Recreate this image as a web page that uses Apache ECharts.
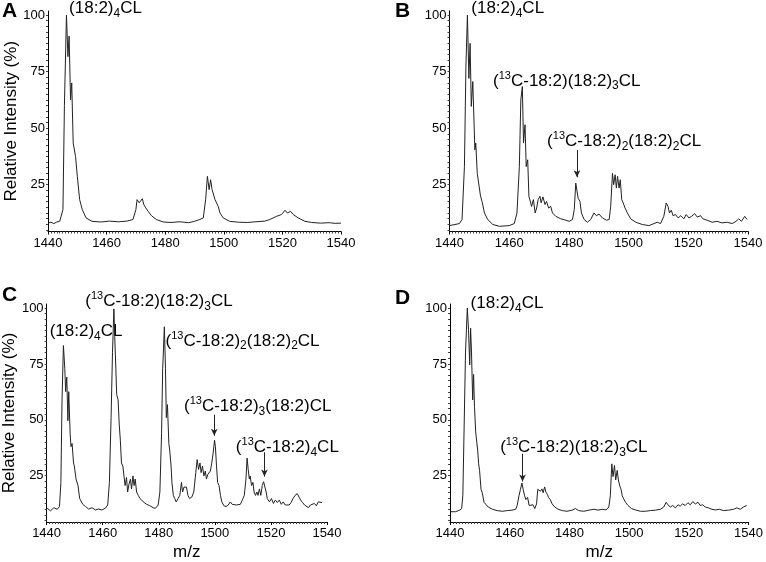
<!DOCTYPE html>
<html>
<head>
<meta charset="utf-8">
<script src="https://cdn.jsdelivr.net/npm/echarts@6/dist/echarts.min.js"></script>
<style>html,body{margin:0;padding:0;background:#fff}#c{width:766px;height:562px}</style>
</head>
<body>
<div id="c"></div>
<script>
// ---- data (m/z, relative intensity %) ----
const mzA = [1440,1441,1442,1443,1444,1444.6,1445.1,1445.6,1446.3,1446.8,1447.2,1447.7,1448.1,1448.6,1448.9,1449.4,1450,1450.8,1451.7,1453,1455,1458,1461,1464,1467,1469,1470,1470.4,1471.1,1471.7,1472.2,1472.7,1473.4,1474.2,1475.3,1477,1479.3,1482,1485,1488,1490,1491.8,1493,1493.8,1494.4,1495,1495.5,1496,1496.4,1497,1497.5,1498.1,1498.7,1499.8,1502,1505,1508,1511,1514,1515.7,1518,1519.7,1520.9,1521.7,1522.8,1523.7,1525.4,1527.7,1530,1533,1536,1538,1540];
const intA = [8.0,8.4,7.8,8.5,8.8,9.2,14,60,100,81.6,90.7,62.5,70,43.4,44,37.5,28.7,18.4,14,10.3,8.8,8.5,8.9,8.6,8.9,9.6,14,18.4,17,17.6,18.8,16.2,14.7,13.2,11.3,9.6,8.5,8.3,8.6,8.2,8.8,9.6,10.3,18.4,28.7,22.8,27.2,22.8,23.5,18.4,17.6,15.4,12.5,10.3,8.8,8.4,8.3,8.6,8.9,9.6,11,11.8,13.7,12.5,13.2,11.8,10.3,8.8,8.3,8.0,8.2,7.9,8.0];

const mzB = [1440,1443.3,1444.2,1445,1445.5,1446,1446.5,1446.9,1447.3,1447.8,1448.5,1448.8,1449.3,1449.8,1450.4,1450.9,1451.7,1452.8,1454.5,1456.7,1460,1461.7,1462.6,1463.4,1463.9,1464.4,1464.8,1465.3,1465.7,1466.2,1466.6,1467.1,1467.5,1468.1,1468.7,1469.2,1469.7,1470.3,1470.7,1471.3,1472,1472.5,1473.2,1473.9,1474.5,1475.6,1477.3,1479,1480.1,1481.2,1481.8,1482.3,1482.7,1483.1,1483.7,1484.2,1485.1,1486.2,1487.3,1488.4,1489.2,1490.1,1491.2,1492.6,1493.5,1494,1494.6,1495,1495.5,1495.9,1496.3,1496.8,1497.2,1497.7,1498.2,1498.8,1499.6,1500.7,1502.4,1504.6,1506.8,1508.5,1509.6,1510.7,1511.8,1512.6,1513.2,1513.7,1514.3,1514.9,1515.7,1516.6,1517.5,1518.5,1519.3,1520.2,1521.1,1522.1,1523,1524.1,1524.9,1526.3,1528,1529.6,1531.3,1533,1534.7,1536,1536.9,1537.8,1538.9,1539.7];
const intB = [6.9,7.8,9.6,33,77,100,72,87.5,59.6,70.6,40.4,43.4,30,29.4,19.9,17.6,12.5,9.6,7.4,6.6,6.9,7.8,12.5,33,62.5,68.4,43.4,51.5,33,36,19.9,20.6,15.4,18.4,12.5,14.7,18.4,19.9,17,19.6,16.2,17.6,14.7,15.4,12.5,11,9.9,9.3,8.8,9.6,14,25.7,26.5,19,17.6,12.5,9.6,8.4,9.6,12.5,11.3,12,10.3,9.3,9.6,15.4,30,25,29.4,23.5,28.7,23.5,27.2,18.4,16.9,14.7,12.5,9.9,8.4,7.4,6.9,7.8,8.4,7.8,11,16.9,15.4,12.5,13.7,11.3,11.8,10.3,11.3,9.9,11.8,10.3,11,12.2,10.7,11.3,9.9,9.3,8.4,8.8,8.1,8.4,7.8,8.8,9.9,8.8,11,9.6];

const mzC = [1440.2,1441.4,1442.6,1443.8,1444.6,1445.1,1445.5,1446,1446.5,1446.8,1447.2,1447.6,1447.9,1448.4,1448.7,1449.1,1449.6,1449.9,1450.5,1451.2,1451.8,1452.3,1452.9,1453.9,1455,1456.2,1457.4,1458.5,1459.7,1460.9,1461.8,1462.4,1463,1463.5,1464,1464.3,1464.7,1465,1465.5,1465.9,1466.3,1466.7,1467.2,1467.6,1468,1468.5,1468.9,1469.4,1469.9,1470.3,1470.8,1471.2,1471.6,1472.1,1472.7,1473.3,1473.9,1474.8,1475.7,1476.8,1478,1478.8,1479.8,1480.4,1481,1481.4,1482,1482.4,1482.7,1483.1,1483.6,1483.9,1484.4,1484.7,1485.2,1485.7,1486.2,1486.9,1487.5,1488.1,1488.5,1489,1489.5,1489.9,1490.4,1491,1491.8,1492.5,1493.2,1493.7,1494.2,1494.7,1495.1,1495.6,1496.1,1496.6,1497,1497.5,1498,1498.4,1498.9,1499.4,1499.9,1500.2,1500.6,1501,1501.5,1502,1502.5,1503.2,1504,1504.8,1505.5,1506.2,1506.9,1507.7,1508.4,1509.1,1509.8,1510.5,1511.1,1511.5,1511.9,1512.3,1512.6,1513.1,1513.6,1514,1514.5,1515,1515.4,1515.9,1516.4,1516.9,1517.4,1517.8,1518.3,1518.7,1519.5,1520.2,1520.9,1521.6,1522.3,1523,1523.7,1524.4,1525.1,1525.8,1526.5,1527.2,1527.9,1528.6,1529.4,1530,1530.6,1531.3,1532,1532.7,1533.4,1534.1,1534.8,1535.5,1536.2,1536.9,1537.6,1538.2];
const intC = [10.4,9.3,10.7,10,11.2,22,58.3,83.2,72.8,62.6,69.1,49.6,62.6,43.8,38,39.4,30.7,29.3,23.5,20.6,14.8,14.8,12.2,11.2,10.1,10.7,9.7,10.1,9.7,10.4,11.9,22,51,80,99.6,87.2,72.8,61.2,59,48.1,40.9,30.7,29.3,24.9,20.6,24.2,17.7,21.3,23.5,19.1,24.9,20.6,23.5,17.7,16.2,14.8,14.1,13,12.2,11.6,10.7,10.4,11.9,17.7,43.8,72.8,91.6,72.8,51,56.8,39.4,36.5,29.3,22,16.2,14.8,13.3,14.8,16.2,22,17.7,19.9,19.1,19.9,16.2,14.8,15.5,17.7,26.4,32.2,27.8,30.7,26.4,29.3,24.9,27.1,23.5,25.6,24.9,27.1,30.7,35.1,40.9,38,29.3,22,20.6,16.2,13.3,11.6,11.2,11.9,13.3,12.2,13,11.9,12.6,12.2,14.1,16.2,23.5,32.9,27.8,23.5,24.9,20.6,22,17.7,16.2,17.7,16.2,19.1,16.2,20.6,22.3,21.7,17.7,14.8,13.3,14.8,12.6,14.1,13,14.1,12.2,13.3,11.9,11.2,11.9,13,14.8,16.2,17,15.5,14.1,13,11.9,11.6,10.7,11.9,11.2,12.6,11.6,13.3,14.1,13];

const mzD = [1440.2,1441.9,1443.2,1443.9,1444.3,1444.8,1445.2,1445.8,1446.2,1446.6,1446.9,1447.2,1447.6,1447.9,1448.2,1448.6,1448.9,1449.3,1449.6,1449.9,1450.4,1450.8,1451.4,1451.9,1452.8,1454.2,1455.8,1457.5,1459.2,1460.8,1462,1462.5,1463.1,1463.6,1464.1,1464.5,1465,1465.4,1466,1466.5,1467.1,1467.8,1468.4,1469,1469.4,1469.9,1470.3,1470.8,1471.2,1471.7,1472.1,1472.6,1473,1473.6,1474.2,1475.1,1476.2,1477.6,1479.2,1480.9,1482,1483.1,1484.8,1486.5,1488.2,1488.7,1489.6,1490.9,1492.3,1493.2,1493.7,1494.2,1494.6,1495.1,1495.5,1496,1496.4,1496.9,1497.3,1497.7,1498.2,1498.8,1499.6,1500.8,1502.1,1503.8,1505.4,1507.1,1508.8,1510.5,1511.6,1512.4,1513,1513.8,1514.6,1515.5,1516.4,1517.1,1517.9,1518.8,1519.7,1520.5,1521.3,1522.2,1523.1,1523.8,1524.6,1525.5,1526.6,1527.7,1528.9,1530.2,1531.6,1533.3,1535,1536.1,1537.2,1538.3,1539.4];
const intD = [8.9,8.9,9.6,10.3,16,51.7,80.3,100,90.3,74.6,91,80.3,58.9,70.3,56,44.6,44.6,36,30.3,27.4,18.9,17.4,13.1,12.4,11,10,9.4,9.1,9.4,9.6,10,11.7,16,18.9,21.7,18.9,16,14.3,15.3,11.7,11,12,10.3,12.4,18.9,19.6,18.1,19.1,17.4,20,17.7,16.7,15.3,14.3,12.4,11,10,9.4,9.1,9.6,10.3,9.4,9.1,9.6,10,10.6,9.6,10,9.7,11,16,30.3,24.6,29.6,23.1,27.4,23.1,20.3,18.9,16,14.6,13.1,11.7,10.3,9.7,9.1,9.1,9.4,9.6,10,11,13.1,12,11,11.7,10.6,12,11.4,12.4,11.7,12.9,12,13.4,12.4,13.1,11.7,12,11,10.6,10,9.7,10,9.4,9.6,10,10.6,10,11,11.7];

// ---- axis labels ----
const xTickLabels = [1440, 1460, 1480, 1500, 1520, 1540];
const yTickLabels = [25, 50, 75, 100];
const panelLetters = ['A', 'B', 'C', 'D'];
const yTitle = 'Relative Intensity (%)';
const xTitle = 'm/z';

// ---- annotations (anchored in data coordinates) ----
const L_18_4 = '{m|(18:2)}{sb|4}{m|CL}';
const L_13_1 = '{m|(}{sp|13}{m|C-18:2)(18:2)}{sb|3}{m|CL}';
const L_13_2 = '{m|(}{sp|13}{m|C-18:2)}{sb|2}{m|(18:2)}{sb|2}{m|CL}';
const L_13_3 = '{m|(}{sp|13}{m|C-18:2)}{sb|3}{m|(18:2)CL}';
const L_13_4 = '{m|(}{sp|13}{m|C-18:2)}{sb|4}{m|CL}';
const annotations = [
  [{t: L_18_4, mz: 1447.2, v: 103}],
  [{t: L_18_4, mz: 1447.3, v: 103}, {t: L_13_1, mz: 1454.6, v: 70.8}, {t: L_13_2, mz: 1472.7, v: 44.2}],
  [{t: L_13_1, mz: 1453.8, v: 103}, {t: L_18_4, mz: 1441.1, v: 89.6}, {t: L_13_2, mz: 1482.4, v: 85.2}, {t: L_13_3, mz: 1489, v: 56}, {t: L_13_4, mz: 1507.5, v: 37.7}],
  [{t: L_18_4, mz: 1446.9, v: 102}, {t: L_13_1, mz: 1456.8, v: 37.7}]
];
const arrows = [
  [],
  [{mz: 1482.7, from: 40.3, to: 28.3}],
  [{mz: 1499.8, from: 52.3, to: 42.9}, {mz: 1517.7, from: 35.5, to: 24.6}],
  [{mz: 1464.3, from: 34.8, to: 22.4}]
];

const FONT = 'Liberation Sans, Arial, Helvetica, sans-serif';
const grids = [
  {left: 48, top: 11, width: 293, height: 220.5},
  {left: 449.5, top: 11, width: 298.5, height: 220.5},
  {left: 44, top: 304, width: 283, height: 222},
  {left: 450, top: 304, width: 300, height: 222}
];
const letterPos = [[2, 12.5], [395, 12.5], [2, 297], [395, 300]];

const yMinor = [];
for (let v = 5; v <= 100; v += 2.5) yMinor.push(v);

const mzs = [mzA, mzB, mzC, mzD];
const ints = [intA, intB, intC, intD];

const chart = echarts.init(document.getElementById('c'), null, {renderer: 'canvas'});
const xAxes = [], yAxes = [], series = [];
for (let i = 0; i < 4; i++) {
  xAxes.push({
    type: 'value', gridIndex: i, min: 1440, max: 1540, interval: 20,
    name: i >= 2 ? xTitle : '', nameLocation: 'middle', nameGap: 22,
    nameTextStyle: {fontFamily: FONT, fontSize: 17, color: '#000'},
    axisLine: {show: true, onZero: false, lineStyle: {color: '#000', width: 1}},
    axisTick: {show: true, length: 3, lineStyle: {color: '#000'}},
    minorTick: {show: true, splitNumber: 20, length: 2, lineStyle: {color: '#444'}},
    splitLine: {show: false},
    axisLabel: {fontFamily: FONT, fontSize: 13, color: '#000', margin: 5,
      formatter: v => xTickLabels.includes(v) ? String(v) : ''}
  });
  yAxes.push({
    type: 'value', gridIndex: i, min: 4.3, max: 101.8,
    name: (i === 0 || i === 2) ? yTitle : '', nameLocation: 'middle', nameGap: 28,
    nameTextStyle: {fontFamily: FONT, fontSize: 17, color: '#000'},
    axisLine: {show: true, onZero: false, lineStyle: {color: '#000', width: 1}},
    axisTick: {show: true, length: 2, customValues: yMinor, lineStyle: {color: '#444'}},
    splitLine: {show: false},
    axisLabel: {fontFamily: FONT, fontSize: 13, color: '#000', margin: 3, customValues: yTickLabels}
  });
  series.push({
    type: 'line', xAxisIndex: i, yAxisIndex: i,
    data: mzs[i].map((m, k) => [m, ints[i][k]]),
    showSymbol: false, symbol: 'none', animation: false,
    lineStyle: {color: '#222', width: 1},
    markLine: arrows[i].length ? {
      silent: true, animation: false, symbol: ['none', 'arrow'], symbolSize: [5, 7],
      lineStyle: {color: '#222', width: 1, type: 'solid'},
      label: {show: false},
      data: arrows[i].map(a => [{coord: [a.mz, a.from]}, {coord: [a.mz, a.to]}])
    } : undefined
  });
}
chart.setOption({
  animation: false,
  backgroundColor: '#fff',
  grid: grids.map(g => Object.assign({containLabel: false}, g)),
  xAxis: xAxes, yAxis: yAxes, series: series
});

const rich = {
  m: {fontFamily: FONT, fontSize: 17, fill: '#000', lineHeight: 22, verticalAlign: 'middle'},
  sp: {fontFamily: FONT, fontSize: 11, fill: '#000', lineHeight: 11, verticalAlign: 'top'},
  sb: {fontFamily: FONT, fontSize: 12, fill: '#000', lineHeight: 12, verticalAlign: 'bottom'}
};
const graphics = [];
for (let i = 0; i < 4; i++) {
  graphics.push({
    type: 'text', left: letterPos[i][0], top: letterPos[i][1] - 12,
    style: {text: panelLetters[i], font: 'bold 21px ' + FONT, fill: '#000'}
  });
  annotations[i].forEach(a => {
    const p = chart.convertToPixel({gridIndex: i}, [a.mz, a.v]);
    graphics.push({
      type: 'text', x: p[0], y: p[1],
      style: {text: a.t, rich: rich, align: 'left', verticalAlign: 'middle', fill: '#000'}
    });
  });
}
chart.setOption({graphic: graphics});
</script>
</body>
</html>
